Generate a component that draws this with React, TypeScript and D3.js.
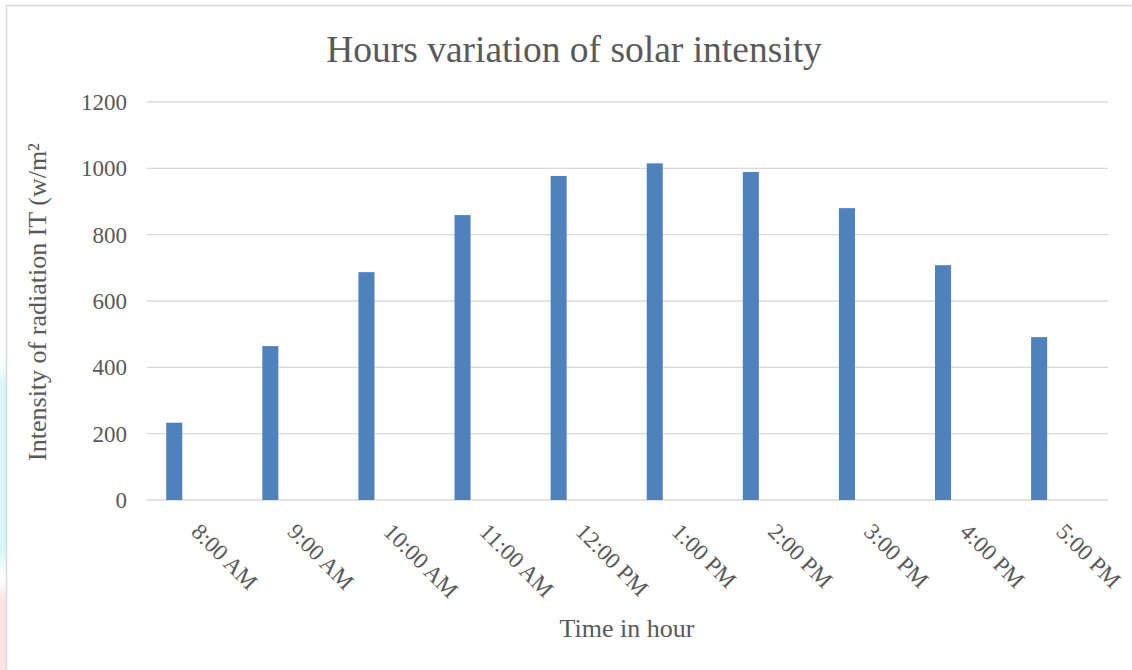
import React from "react";
import * as d3 from "d3";

const categories = ["8:00 AM", "9:00 AM", "10:00 AM", "11:00 AM", "12:00 PM", "1:00 PM", "2:00 PM", "3:00 PM", "4:00 PM", "5:00 PM"];
const intensity = [233, 464, 687, 859, 977, 1015, 989, 880, 708, 491];
const yTicks = [0, 200, 400, 600, 800, 1000, 1200];

const W = 1132;
const H = 670;
const FONT = "Liberation Serif, Times New Roman, serif";
const TXT = "#595959";

export default function App() {
  const x = d3.scaleBand<string>().domain(categories).range([147, 1108]).paddingInner(0).paddingOuter(0);
  const y = d3.scaleLinear().domain([0, 1200]).range([500, 102]);
  const bw = x.bandwidth();

  return (
    <svg width={W} height={H} style={{ position: "absolute", left: 0, top: 0, background: "#fff" }}>
      <defs>
        <linearGradient id="cy" x1="0" y1="0" x2="0" y2="1">
          <stop offset="0" stopColor="#ffffff" />
          <stop offset="0.12" stopColor="#d6f6f8" />
          <stop offset="0.88" stopColor="#d6f6f8" />
          <stop offset="1" stopColor="#ffffff" />
        </linearGradient>
        <linearGradient id="pk" x1="0" y1="0" x2="0" y2="1">
          <stop offset="0" stopColor="#ffffff" />
          <stop offset="0.2" stopColor="#fde3e3" />
          <stop offset="1" stopColor="#fde3e3" />
        </linearGradient>
      </defs>
      <rect x={0} y={0} width={W} height={H} fill="#fff" />
      <rect x={0} y={360} width={6} height={215} fill="url(#cy)" />
      <rect x={0} y={580} width={6} height={90} fill="url(#pk)" />
      <rect x={6.5} y={5.5} width={W + 10} height={H + 10} fill="#fff" stroke="#d9d9d9" strokeWidth={1.5} />

      <text x={574} y={62} textAnchor="middle" fontFamily={FONT} fontSize={37.5} fill={TXT}>
        Hours variation of solar intensity
      </text>

      {yTicks.map((t) => (
        <g key={t}>
          <line x1={147} x2={1108} y1={y(t)} y2={y(t)} stroke="#d9d9d9" strokeWidth={1.3} />
          <text x={127} y={y(t)} dy="0.35em" textAnchor="end" fontFamily={FONT} fontSize={23} fill={TXT}>
            {t}
          </text>
        </g>
      ))}

      {categories.map((c, i) => (
        <rect
          key={c}
          x={(x(c) as number) + bw * 0.2}
          y={y(intensity[i])}
          width={bw * 0.167}
          height={y(0) - y(intensity[i])}
          fill="#4f81bd"
        />
      ))}

      {categories.map((c) => {
        const cx = (x(c) as number) + bw / 2 - 5;
        const cy = 533;
        return (
          <text
            key={c}
            x={cx}
            y={cy}
            transform={`rotate(45 ${cx} ${cy})`}
            fontFamily={FONT}
            fontSize={23}
            fill={TXT}
          >
            {c}
          </text>
        );
      })}

      <text
        x={0}
        y={0}
        transform={`translate(46 302) rotate(-90)`}
        textAnchor="middle"
        fontFamily={FONT}
        fontSize={26}
        fill={TXT}
      >
        Intensity of radiation IT (w/m²
      </text>

      <text x={627} y={637} textAnchor="middle" fontFamily={FONT} fontSize={26} fill={TXT}>
        Time in hour
      </text>
    </svg>
  );
}
